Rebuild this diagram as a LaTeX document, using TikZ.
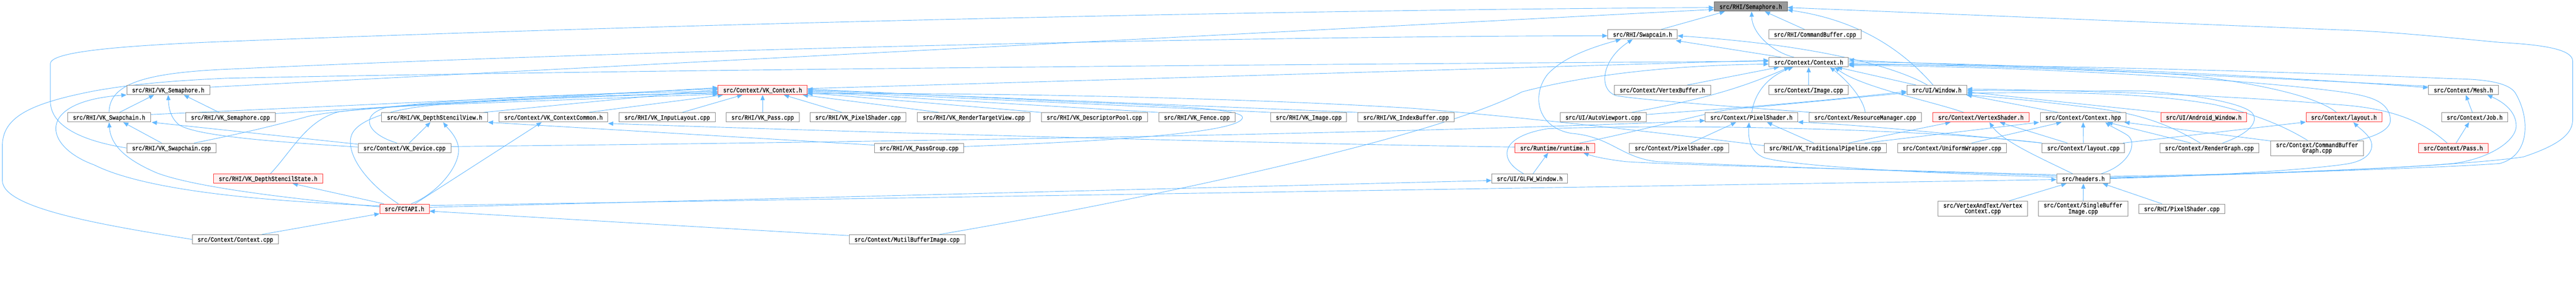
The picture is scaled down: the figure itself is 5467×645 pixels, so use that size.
\documentclass[tikz,border=0pt]{standalone}
\usepackage{fontspec}
\newfontfamily\dmono[FakeStretch=0.83,FakeBold=0.4]{Liberation Mono}
\usetikzlibrary{arrows.meta,calc}
\pgfdeclarelayer{bg}
\pgfsetlayers{bg,main}
\definecolor{edgec}{HTML}{63B8FF}
\definecolor{nbd}{HTML}{888888}
\definecolor{rbd}{HTML}{FF3333}
\definecolor{rfill}{HTML}{FFF0F0}
\definecolor{rootbd}{HTML}{666666}
\definecolor{rootfill}{HTML}{999999}
\newcommand\dmf{\dmono\fontsize{14}{11.7}\selectfont}
\tikzset{
  nbox/.style={draw=nbd, fill=white, line width=1pt, inner sep=0pt, minimum height=20pt, text height=10.5pt, text depth=0.5pt, font=\dmf},
  nbox2/.style={draw=nbd, fill=white, line width=1pt, inner sep=0pt, minimum height=32pt, align=center, font=\dmf},
  rbox/.style={nbox, draw=rbd, fill=rfill},
  rootbox/.style={nbox, draw=rootbd, fill=rootfill},
  edg/.style={draw=edgec, line width=1pt, -{Triangle[length=11pt,width=9pt]}},
  lnn/.style={draw=edgec, line width=1pt},
}
\begin{document}
\begin{tikzpicture}[x=1pt,y=-1pt]
\useasboundingbox (0,0) rectangle (5467,645);
% ---------- nodes ----------
\node[rootbox, minimum width=155pt] (sem) at (3715.5,14) {src/RHI/Semaphore.h};
\node[nbox, minimum width=148pt] (swc) at (3486,73) {src/RHI/Swapcain.h};
\node[nbox, minimum width=196pt] (cbc) at (3852,73) {src/RHI/CommandBuffer.cpp};
\node[nbox, minimum width=169pt] (ctxh) at (3838.5,132) {src/Context/Context.h};
\node[nbox, minimum width=176pt] (vksemh) at (357,191) {src/RHI/VK\_Semaphore.h};
\node[rbox, minimum width=189pt] (vkctxh) at (1618.5,191) {src/Context/VK\_Context.h};
\node[nbox, minimum width=204pt] (vbh) at (3528,191) {src/Context/VertexBuffer.h};
\node[nbox, minimum width=169pt] (imgc) at (3838.5,191) {src/Context/Image.cpp};
\node[nbox, minimum width=127pt] (winh) at (4110.5,191) {src/UI/Window.h};
\node[nbox, minimum width=148pt] (meshh) at (5228,191) {src/Context/Mesh.h};
\node[nbox, minimum width=176pt] (vkswh) at (231.5,249) {src/RHI/VK\_Swapchain.h};
\node[nbox, minimum width=190pt] (vksemc) at (489,249) {src/RHI/VK\_Semaphore.cpp};
\node[nbox, minimum width=225pt] (vkdsv) at (922.5,249) {src/RHI/VK\_DepthStencilView.h};
\node[nbox, minimum width=231pt] (vkcc) at (1174.5,249) {src/Context/VK\_ContextCommon.h};
\node[nbox, minimum width=204pt] (vkil) at (1416,249) {src/RHI/VK\_InputLayout.cpp};
\node[nbox, minimum width=155pt] (vkpass) at (1618.5,249) {src/RHI/VK\_Pass.cpp};
\node[nbox, minimum width=204pt] (vkps) at (1821,249) {src/RHI/VK\_PixelShader.cpp};
\node[nbox, minimum width=239pt] (vkrtv) at (2066.5,249) {src/RHI/VK\_RenderTargetView.cpp};
\node[nbox, minimum width=225pt] (vkdp) at (2322.5,249) {src/RHI/VK\_DescriptorPool.cpp};
\node[nbox, minimum width=162pt] (vkfence) at (2540,249) {src/RHI/VK\_Fence.cpp};
\node[nbox, minimum width=161pt] (vkimg) at (2777.5,249) {src/RHI/VK\_Image.cpp};
\node[nbox, minimum width=204pt] (vkib) at (2984,249) {src/RHI/VK\_IndexBuffer.cpp};
\node[nbox, minimum width=183pt] (autovp) at (3402.5,249) {src/UI/AutoViewport.cpp};
\node[nbox, minimum width=196pt] (psh) at (3717,249) {src/Context/PixelShader.h};
\node[nbox, minimum width=239pt] (rmc) at (3958.5,249) {src/Context/ResourceManager.cpp};
\node[rbox, minimum width=204pt] (vsh) at (4204,249) {src/Context/VertexShader.h};
\node[nbox, minimum width=182pt] (ctxhpp) at (4421,249) {src/Context/Context.hpp};
\node[rbox, minimum width=182pt] (andw) at (4677,249) {src/UI/Android\_Window.h};
\node[rbox, minimum width=161pt] (layh) at (4974.5,249) {src/Context/layout.h};
\node[nbox, minimum width=140pt] (jobh) at (5252,249) {src/Context/Job.h};
\node[nbox, minimum width=190pt] (vkswc) at (364,314) {src/RHI/VK\_Swapchain.cpp};
\node[nbox, minimum width=197pt] (vkdev) at (858.5,314) {src/Context/VK\_Device.cpp};
\node[nbox, minimum width=189pt] (vkpg) at (1950.5,314) {src/RHI/VK\_PassGroup.cpp};
\node[rbox, minimum width=169pt] (rth) at (3299.5,314) {src/Runtime/runtime.h};
\node[nbox, minimum width=211pt] (psc) at (3563.5,314) {src/Context/PixelShader.cpp};
\node[nbox, minimum width=259pt] (vktp) at (3873.5,314) {src/RHI/VK\_TraditionalPipeline.cpp};
\node[nbox, minimum width=231pt] (uwc) at (4142.5,314) {src/Context/UniformWrapper.cpp};
\node[nbox, minimum width=175pt] (layc) at (4421.5,314) {src/Context/layout.cpp};
\node[nbox, minimum width=210pt] (rgc) at (4689,314) {src/Context/RenderGraph.cpp};
\node[nbox2, minimum width=197pt] (cbgc) at (4917.5,314.5) {src/Context/CommandBuffer\\Graph.cpp};
\node[rbox, minimum width=147pt] (passh) at (5206.5,314) {src/Context/Pass.h};
\node[rbox, minimum width=232pt] (vkdss) at (569,379) {src/RHI/VK\_DepthStencilState.h};
\node[nbox, minimum width=161pt] (glfw) at (3246.5,379) {src/UI/GLFW\_Window.h};
\node[nbox, minimum width=113pt] (hdr) at (4421.5,379) {src/headers.h};
\node[rbox, minimum width=105pt] (fct) at (858.5,443) {src/FCTAPI.h};
\node[nbox2, minimum width=190pt] (vtc) at (4208,443) {src/VertexAndText/Vertex\\Context.cpp};
\node[nbox2, minimum width=190pt] (sbi) at (4421,443) {src/Context/SingleBuffer\\Image.cpp};
\node[nbox, minimum width=183pt] (rpsc) at (4630.5,443) {src/RHI/PixelShader.cpp};
\node[nbox, minimum width=183pt] (ctxc) at (499.5,508) {src/Context/Context.cpp};
\node[nbox, minimum width=246pt] (mbi) at (1925,508) {src/Context/MutilBufferImage.cpp};
% ---------- edges ----------
\begin{pgfonlayer}{bg}
% into Semaphore.h
\draw[edg] ($(swc.north)+(39,0)$) -- ($(sem.south)+(-55,0)$);
\draw[edg] ($(cbc.north)+(-22,0)$) -- ($(sem.south)+(30,0)$);
\draw[edg] ($(ctxh.north)+(-31,0)$) .. controls (3760,110) and (3718,70) .. ($(sem.south)+(2,0)$);
\draw[edg] ($(winh.north)+(-8,0)$) .. controls (4050,120) and (3960,45) .. ($(sem.east)+(0,7)$);
\draw[edg] ($(hdr.east)+(0,-3)$) .. controls (4800,372) and (5230,352) .. (5355,333) .. controls (5440,305) and (5460,280) .. (5460,253) -- (5460,130) .. controls (5460,105) and (5400,95) .. (5305,90) .. controls (5200,80) and (5100,70) .. (5005,65) -- ($(sem.east)+(0,2)$);
\draw[edg] ($(vksemh.east)+(0,-6)$) -- ($(sem.west)+(0,6)$);
\draw[edg] (vkswc.west) .. controls (180,300) and (107,270) .. (107,215) -- (107,135) .. controls (107,110) and (250,97) .. (480,88) .. controls (1500,48) and (2800,20) .. ($(sem.west)+(0,2)$);
% into Swapcain.h
\draw[edg] ($(ctxh.north)+(-58,0)$) -- ($(swc.east)+(-4,13)$);
\draw[edg] ($(winh.north)+(-20,0)$) .. controls (4020,140) and (3850,95) .. ($(swc.east)+(0,3)$);
\draw[edg] (vkswh.north) .. controls (232,180) and (300,155) .. (480,147) .. controls (1500,100) and (2800,76) .. ($(swc.west)+(0,3)$);
\draw[edg] ($(hdr.west)+(0,-6)$) .. controls (4100,365) and (3700,352) .. (3518,343) .. controls (3440,335) and (3420,290) .. (3335,283) .. controls (3260,270) and (3250,200) .. (3285,157) .. controls (3320,120) and (3380,100) .. ($(swc.south)+(-46,0)$);
\draw[edg] ($(rmc.north west)+(6,0)$) .. controls (3700,228) and (3480,212) .. (3430,203) .. controls (3390,190) and (3400,125) .. ($(swc.south)+(-21,0)$);
% Context.cpp
\draw[edg] ($(ctxc.north east)+(-36,0)$) -- (fct.south west);
\draw[edg] (ctxc.west) .. controls (200,475) and (5,440) .. (5,383) -- (5,310) .. controls (5,250) and (60,220) .. (200,193) .. controls (300,175) and (400,170) .. (480,166) .. controls (1500,145) and (3000,135) .. ($(ctxh.west)+(0,-2)$);
% left cluster
\draw[edg] ($(vkswh.north)+(22,0)$) -- ($(vksemh.south)+(-30,0)$);
\draw[edg] ($(vksemc.north)+(-24,0)$) -- ($(vksemh.south)+(33,0)$);
\draw[edg] ($(vkswc.north)+(-21,0)$) -- ($(vkswh.south)+(30,0)$);
\draw[edg] ($(vkdev.west)+(0,-2)$) .. controls (600,302) and (420,290) .. (380,265) .. controls (362,250) and (358,230) .. (vksemh.south);
\draw[edg] ($(vkdev.west)+(0,-8)$) -- ($(vkswh.south east)+(2,0)$);
\draw[edg] ($(vkdev.north)+(10,0)$) -- ($(vkdsv.south)+(-9,0)$);
\draw[edg] ($(vkdev.north)+(-16,0)$) .. controls (780,285) and (760,245) .. (820,228) .. controls (1000,205) and (1350,196) .. ($(vkctxh.west)+(0,3)$);
\draw[edg] ($(vkdev.east)+(0,-3)$) .. controls (2000,300) and (3000,282) .. ($(psh.west)+(0,7)$);
\draw[edg] ($(vkswc.north)+(48,0)$) .. controls (520,282) and (600,262) .. (650,248) .. controls (720,228) and (1100,210) .. ($(vkctxh.west)+(0,5)$);
\draw[edg] ($(vksemc.east)+(0,-8)$) -- ($(vkctxh.west)+(0,-5)$);
\draw[edg] ($(vkswh.east)+(0,-6)$) -- ($(vkctxh.west)+(0,-3)$);
\draw[edg] ($(vkdss.north)+(5,0)$) .. controls (620,320) and (650,255) .. (720,237) .. controls (900,215) and (1300,200) .. ($(vkctxh.west)+(0,7)$);
% FCTAPI.h
\draw[edg] ($(fct.north)+(-13,0)$) .. controls (780,390) and (735,330) .. (745,290) .. controls (755,250) and (850,228) .. (935,222) .. controls (1200,212) and (1400,204) .. ($(vkctxh.west)+(0,9)$);
\draw[edg] ($(fct.north)+(14,0)$) .. controls (930,410) and (978,350) .. (973,313) .. controls (970,290) and (950,272) .. ($(vkdsv.south)+(18,0)$);
\draw[edg] ($(fct.north)+(22,0)$) -- ($(vkcc.south)+(-25,0)$);
\draw[edg] ($(fct.north west)+(9,0)$) -- ($(vkdss.south)+(52,0)$);
\draw[edg] ($(fct.west)+(0,-4)$) .. controls (650,425) and (420,400) .. (333,367) .. controls (270,340) and (235,310) .. (vkswh.south);
\draw[edg] ($(fct.west)+(0,-6)$) .. controls (650,430) and (330,415) .. (200,350) .. controls (90,310) and (75,215) .. (vksemh.south west);
\draw[edg] ($(fct.east)+(0,-3)$) -- ($(glfw.west)+(0,4)$);
\draw[edg] ($(fct.east)+(0,-7)$) -- ($(hdr.west)+(0,2)$);
\draw[edg] ($(mbi.west)+(0,-8)$) -- ($(fct.east)+(0,5)$);
\draw[edg] ($(mbi.north east)+(-55,0)$) .. controls (2450,420) and (3050,290) .. (3230,195) .. controls (3400,150) and (3600,138) .. ($(ctxh.west)+(0,4)$);
% into VK_Context.h
\draw[edg] ($(vkdsv.north east)+(-10,0)$) -- ($(vkctxh.west)+(0,-1)$);
\draw[edg] ($(vkcc.north east)+(-42,0)$) -- ($(vkctxh.south west)+(11,0)$);
\draw[edg] ($(vkil.north)+(32,0)$) -- ($(vkctxh.south)+(-43,0)$);
\draw[edg] (vkpass.north) -- (vkctxh.south);
\draw[edg] ($(vkps.north)+(-34,0)$) -- ($(vkctxh.south)+(45,0)$);
\draw[edg] ($(vkrtv.north)+(-73,0)$) -- ($(vkctxh.south east)+(-10,0)$);
\draw[edg] (vkdp.north west) -- ($(vkctxh.east)+(0,6)$);
\draw[edg] (vkfence.north west) -- ($(vkctxh.east)+(0,4)$);
\draw[edg] (vkimg.north west) -- ($(vkctxh.east)+(0,2)$);
\draw[edg] (vkib.north west) -- (vkctxh.east);
\draw[edg] ($(vkpg.east)+(0,-3)$) .. controls (2350,300) and (2630,282) .. (2637,250) .. controls (2640,232) and (2500,224) .. (2275,216) -- ($(vkctxh.east)+(0,-2)$);
\draw[edg] ($(vktp.west)+(0,-5)$) .. controls (3550,285) and (3250,250) .. (3000,230) .. controls (2600,205) and (2000,196) .. ($(vkctxh.east)+(0,8)$);
\draw[edg] ($(vkpg.west)+(0,-6)$) -- (vkdsv.south east);
\draw[edg] ($(rth.west)+(0,-2)$) .. controls (2700,305) and (1800,280) .. ($(vkcc.east)+(0,13)$);
% into Context.h
\draw[edg] ($(vkctxh.east)+(0,-3)$) -- ($(ctxh.west)+(0,-4)$);
\draw[edg] ($(vbh.north east)+(-50,0)$) -- ($(ctxh.south west)+(22,0)$);
\draw[edg] (imgc.north) -- (ctxh.south);
\draw[edg] ($(autovp.north east)+(-32,0)$) .. controls (3620,210) and (3700,185) .. ($(ctxh.south west)+(44,0)$);
\draw[edg] ($(psh.north)+(1,0)$) .. controls (3722,205) and (3745,165) .. ($(ctxh.south west)+(52,0)$);
\draw[edg] (rmc.north) .. controls (3955,210) and (3920,170) .. ($(ctxh.south east)+(-40,0)$);
\draw[edg] ($(vsh.north west)+(66,0)$) .. controls (4100,215) and (3950,185) .. ($(ctxh.south east)+(-30,0)$);
\draw[edg] ($(winh.north west)+(20,0)$) -- ($(ctxh.south east)+(-25,0)$);
\draw[edg] ($(meshh.west)+(0,-8)$) .. controls (4800,165) and (4300,140) .. ($(ctxh.east)+(0,3)$);
\draw[edg] ($(ctxh.east)+(0,-1)$) .. controls (4300,136) and (4800,160) .. ($(meshh.west)+(0,-5)$);
\draw[edg] ($(hdr.east)+(0,-5)$) .. controls (4800,370) and (5200,355) .. (5305,347) .. controls (5370,330) and (5370,250) .. (5338,197) .. controls (5320,170) and (5250,168) .. (5205,167) .. controls (4800,150) and (4300,137) .. ($(ctxh.east)+(0,5)$);
\draw[edg] ($(cbgc.north east)+(-14,0)$) .. controls (5040,290) and (5075,275) .. (5073,253) .. controls (5070,215) and (5030,205) .. (4983,197) .. controls (4800,170) and (4300,140) .. ($(ctxh.east)+(0,7)$);
\draw[edg] ($(layh.north)+(-16,0)$) .. controls (4930,215) and (4850,185) .. (4650,160) .. controls (4400,143) and (4100,137) .. ($(ctxh.east)+(0,-5)$);
% right cluster
\draw[edg] ($(hdr.east)+(0,-1)$) .. controls (4800,368) and (5100,357) .. (5205,347) .. controls (5280,338) and (5340,300) .. (5340,267) .. controls (5340,235) and (5310,215) .. ($(meshh.south east)+(-24,0)$);
\draw[edg] (hdr.east) .. controls (4700,373) and (4900,360) .. (4980,348) .. controls (5030,340) and (5040,315) .. (5030,295) .. controls (5020,280) and (5005,270) .. ($(layh.south)+(20,0)$);
\draw[edg] ($(cbgc.north)+(-20,0)$) .. controls (4860,275) and (4800,245) .. (4700,222) .. controls (4550,195) and (4350,195) .. ($(winh.east)+(0,7)$);
\draw[edg] ($(cbgc.north west)+(0,1)$) -- ($(ctxhpp.south east)+(-4,0)$);
\draw[edg] ($(rgc.north west)+(66,0)$) -- ($(ctxhpp.south east)+(-40,0)$);
\draw[edg] ($(rgc.north west)+(86,0)$) .. controls (4600,262) and (4540,242) .. (4450,230) .. controls (4330,215) and (4230,205) .. ($(winh.south east)+(-2,0)$);
\draw[edg] ($(rgc.north)+(28,0)$) .. controls (4770,285) and (4795,260) .. (4780,240) .. controls (4760,218) and (4650,200) .. (4550,193) -- ($(winh.east)+(0,1)$);
\draw[edg] (andw.north west) -- ($(winh.east)+(0,4)$);
\draw[edg] ($(passh.north)+(-13,0)$) .. controls (5150,265) and (5090,230) .. (4960,222) .. controls (4700,200) and (4400,192) .. ($(winh.east)+(0,-2)$);
\draw[edg] ($(passh.north)+(6,0)$) -- ($(jobh.south)+(-12,0)$);
\draw[edg] ($(jobh.north)+(-5,0)$) -- ($(meshh.south)+(5,0)$);
\draw[edg] ($(ctxhpp.north)+(-53,0)$) -- ($(winh.south east)+(-1,0)$);
\draw[edg] ($(uwc.north)+(42,0)$) -- ($(ctxhpp.south)+(-46,0)$);
\draw[edg] (layc.north) -- (ctxhpp.south);
\draw[edg] ($(hdr.north)+(38,0)$) .. controls (4520,350) and (4540,300) .. (4512,285) .. controls (4495,275) and (4480,268) .. ($(ctxhpp.south)+(47,0)$);
\draw[edg] ($(vktp.north east)+(-46,0)$) -- ($(ctxhpp.south west)+(-2,0)$);
\draw[edg] ($(vktp.north east)+(-80,0)$) -- ($(vsh.south west)+(38,0)$);
\draw[edg] ($(vktp.north)+(-24,0)$) -- ($(psh.south)+(33,0)$);
\draw[edg] ($(psc.north east)+(-81,0)$) -- ($(psh.south west)+(66,0)$);
\draw[edg] ($(hdr.west)+(0,-3)$) .. controls (4000,365) and (3800,350) .. (3745,335) .. controls (3712,322) and (3710,290) .. ($(psh.south)+(-5,0)$);
\draw[edg] (layc.north west) .. controls (4150,285) and (3950,265) .. ($(psh.east)+(0,10)$);
\draw[edg] ($(layc.north)+(-34,0)$) -- ($(vsh.south)+(40,0)$);
\draw[edg] ($(hdr.north)+(-23,0)$) .. controls (4330,335) and (4250,300) .. ($(vsh.south)+(18,0)$);
\draw[edg] ($(layc.north east)+(-4,0)$) -- ($(layh.west)+(0,10)$);
\draw[edg] ($(vtc.north)+(55,0)$) -- ($(hdr.south)+(-36,0)$);
\draw[edg] (sbi.north) -- (hdr.south);
\draw[edg] ($(rpsc.north west)+(50,0)$) -- ($(hdr.south east)+(-16,0)$);
% runtime / GLFW
\draw[edg] ($(glfw.north)+(7,0)$) -- ($(rth.south)+(-14,0)$);
\draw[lnn] ($(glfw.north)+(-13,0)$) .. controls (3180,340) and (3180,290) .. (3285,273) .. controls (3600,262) and (4100,275) .. (layc.north west);
\draw[edg] ($(rth.north)+(53,0)$) .. controls (3450,285) and (3600,245) .. (3665,233) -- ($(winh.west)+(0,6)$);
\draw[edg] ($(autovp.east)+(0,-6)$) .. controls (3600,235) and (3800,222) .. ($(winh.west)+(0,3)$);
\draw[edg] ($(hdr.west)+(0,-8)$) .. controls (4000,360) and (3600,352) .. (3450,343) .. controls (3410,338) and (3385,333) .. ($(rth.south east)+(-24,0)$);
\end{pgfonlayer}
\end{tikzpicture}
\end{document}
